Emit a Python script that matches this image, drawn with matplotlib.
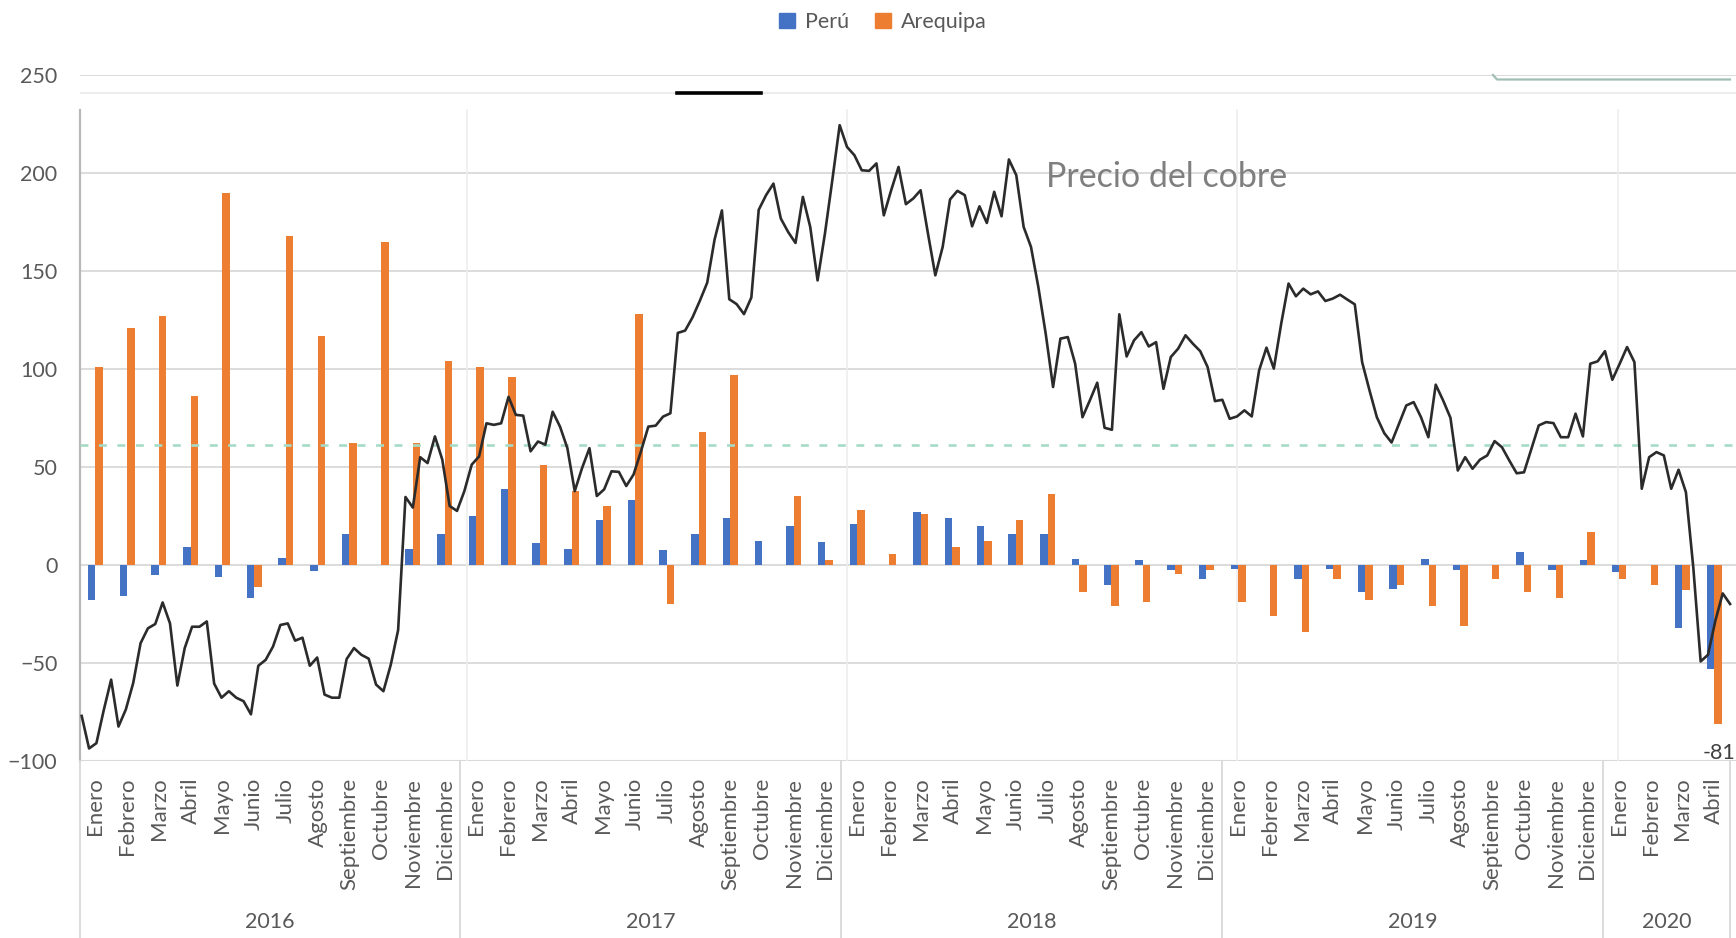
import numpy as np
import matplotlib
matplotlib.use("Agg")
import matplotlib.pyplot as plt
from matplotlib.lines import Line2D
from matplotlib.patches import Patch
import matplotlib.transforms as mtransforms

plt.rcParams['font.family'] = ['Lato', 'DejaVu Sans']

# ---------------- data ----------------
months = ["Enero", "Febrero", "Marzo", "Abril", "Mayo", "Junio", "Julio",
          "Agosto", "Septiembre", "Octubre", "Noviembre", "Diciembre"]
years = ["2016", "2017", "2018", "2019", "2020"]
months_per_year = [12, 12, 12, 12, 4]
month_labels = months * 4 + months[:4]

peru = [-18, -16, -5, 9, -6, -17, 3.5, -3, 16, 0, 8, 16,
        25, 39, 11, 8, 23, 33, 7.5, 16, 24, 12.5, 20, 11.5,
        21, 0, 27, 24, 20, 16, 16, 3.3, -10, 2.3, -2.8, -6.9,
        -1.8, 0, -6.9, -1.8, -14, -12, 3.3, -2.8, 0, 6.4, -2.8, 2.3,
        -3.8, 0, -32, -53]
arequipa = [101, 121, 127, 86, 190, -11, 168, 117, 62, 165, 62, 104,
            101, 96, 51, 38, 30, 128, -20, 68, 97, 0, 35, 2.3,
            28, 5.4, 26, 9, 12.5, 23, 36, -14, -21, -19, -4.8, -2.8,
            -19, -26, -34, -6.9, -18, -10, -21, -31, -6.9, -14, -17, 17,
            -6.9, -10, -13, -81]

# weekly copper price index (Precio del cobre)
copper = [
    -77, -93.6, -90.9, -74, -58.5, -82.4, -73.7, -60.2, -39.9, -32.3,
    -30.1, -19.1, -29.8, -61.5, -42.4, -31.5, -31.5, -28.8, -60.5, -67.7,
    -64.4, -67.7, -69.5, -76.2, -51.4, -48.4, -41.6, -30.6, -29.8, -38.6,
    -37.1, -51.4, -47.2, -66.1, -67.7, -67.7, -48, -42.4, -45.8, -47.8,
    -61, -64.4, -50.9, -33.2, 34.7, 29.3, 55, 52, 65.6, 53.8,
    30.1, 27.6, 37.7, 51.2, 55.4, 72.3, 71.5, 72.3, 85.8, 76.6,
    76.2, 58, 63, 61.4, 78.2, 70.6, 59.6, 37.7, 49.5, 59.6,
    35.2, 38.6, 47.8, 47.5, 40.3, 46.2, 58, 70.6, 71.1, 75.7,
    77.4, 118.4, 119.6, 126.3, 134.8, 144, 166, 180.9, 135.6, 133.1,
    128, 136.5, 181.2, 188.7, 194.6, 176.8, 169.9, 164.3, 187.8, 172.5,
    145.2, 169.1, 196.3, 224.4, 213.3, 209.1, 201.4, 201.1, 204.9, 178.4,
    191.2, 203.1, 184.1, 187, 191.2, 169.1, 147.8, 162.3, 186.5, 190.9,
    188.7, 172.8, 183, 174.5, 190.4, 177.9, 206.9, 198.9, 172.5, 162.3,
    141.8, 118, 90.8, 115.5, 116.3, 102.7, 75.4, 84, 93, 70,
    69, 127.9, 106.4, 114.6, 118.8, 111.5, 113.7, 89.9, 106.1, 110.4,
    117.2, 112.9, 109.1, 101, 83.6, 84.3, 74.6, 75.8, 78.9, 75.8,
    99.3, 110.9, 100.2, 123.1, 143.6, 137.1, 141, 138.1, 139.6, 134.7,
    135.9, 137.9, 135.4, 133, 103.5, 89.1, 75.4, 67.3, 62.5, 72,
    81.4, 83.1, 75.4, 65.2, 92, 84, 75.1, 48.2, 55, 49.1,
    53.7, 55.9, 63.2, 60.1, 53.3, 46.8, 47.3, 59.3, 71.2, 72.9,
    72.4, 65.2, 65.2, 77.2, 65.6, 102.7, 103.9, 109.1, 94.5, 102.7,
    111.2, 103.5, 38.9, 55, 57.6, 55.9, 38.9, 48.6, 37.1, -1.2,
    -49.2, -45.8, -28.4, -14.5, -19.9]

reference_level = 61
copper_label = "Precio del cobre"

# ---------------- style ----------------
W, H = 1736, 938
BLUE = "#4472C4"
ORANGE = "#ED7D31"
GRID = "#d9d9d9"
TXT = "#595959"

fig = plt.figure(figsize=(W / 100, H / 100), dpi=100)
x_left_px, cat_px = 79.6, 31.74
ax_bottom_px, ax_top_px = 761, 75
ax = fig.add_axes([x_left_px / W, (H - ax_bottom_px) / H,
                   (W - x_left_px) / W, (ax_bottom_px - ax_top_px) / H])
n = len(month_labels)
xmax = (W - x_left_px) / cat_px
ax.set_xlim(0, xmax)
ax.set_ylim(-100, 250)
for s in ax.spines.values():
    s.set_visible(False)

# gridlines
for v in range(-50, 251, 50):
    ax.axhline(v, color=GRID, lw=1.3, zorder=0)
ax.axhline(-100, color=GRID, lw=1.5, zorder=0)
ax.axhline(240.6, color="#e9e9e9", lw=1.2, zorder=0)
# faint vertical gridlines of the overlaid line chart
for u in [12.2, 24.17, 36.46, 48.47]:
    ax.plot([u, u], [-100, 232], color="#ededed", lw=1.2, zorder=0)
# value axis line
ax.plot([0.0, 0.0], [-100, 232], color="#b8b8b8", lw=1.6, zorder=1, clip_on=False)

# bars
x = np.arange(n) + 0.5
bw = 0.235
ax.bar(x - bw / 2, peru, width=bw, color=BLUE, zorder=2, label="Perú")
ax.bar(x + bw / 2, arequipa, width=bw, color=ORANGE, zorder=2, label="Arequipa")

# reference dashed line
ax.axhline(reference_level, color="#a6dcc6", lw=1.9,
           linestyle=(0, (3.0, 4.0)), zorder=3)

# copper line
cx = np.linspace(0.066, n, len(copper))
ax.plot(cx, copper, color="#2b2b2b", lw=1.9, zorder=4)
ax.text(30.45, 198, copper_label, fontsize=24.5, color="#7f7f7f",
        ha="left", va="center", zorder=5)

# data label
ax.annotate(f"{arequipa[-1]:.0f}", xy=(x[-1] + bw / 2, arequipa[-1]),
            xytext=(1, -21), textcoords="offset points",
            ha="center", va="center", fontsize=15.5, color="#404040",
            annotation_clip=False)

# ticks
ax.set_yticks(range(-100, 251, 50))
ax.tick_params(axis="y", length=0, pad=16, labelsize=15.5, labelcolor=TXT)
ax.set_xticks(x)
ax.set_xticklabels(month_labels, rotation=90, fontsize=16, color=TXT)
ax.tick_params(axis="x", length=0, pad=12)

# year groups
trans = mtransforms.blended_transform_factory(ax.transData, ax.transAxes)
axh = ax_bottom_px - ax_top_px
y_sep_bottom = -(H - ax_bottom_px) / axh
y_year = -(922 - ax_bottom_px) / axh
start = 0
bounds = [0]
for yr, cnt in zip(years, months_per_year):
    ax.text(start + cnt / 2, y_year, yr, transform=trans, ha="center",
            va="center", fontsize=15.5, color=TXT)
    start += cnt
    bounds.append(start)
for b in bounds:
    ax.plot([b, b], [0, y_sep_bottom], transform=trans, color=GRID,
            lw=1.3, clip_on=False)

# decorative artefacts at the top
fig.add_artist(Line2D([677 / W, 761 / W], [1 - 92.7 / H, 1 - 92.7 / H],
                      color="black", lw=2.6))
fig.add_artist(Line2D([1493 / W, 1497 / W, 1730 / W],
                      [1 - 75 / H, 1 - 79.5 / H, 1 - 79.5 / H],
                      color="#9fbfb2", lw=1.6))

# legend
handles = [Patch(color=BLUE, label="Perú"), Patch(color=ORANGE, label="Arequipa")]
leg = fig.legend(handles=handles, loc="center", bbox_to_anchor=(883 / W, 1 - 22 / H),
                 ncol=2, frameon=False, fontsize=15.5, handlelength=0.75,
                 handleheight=0.75, handletextpad=0.45, columnspacing=1.2)
for t in leg.get_texts():
    t.set_color(TXT)

fig.savefig("out.png", dpi=100)
